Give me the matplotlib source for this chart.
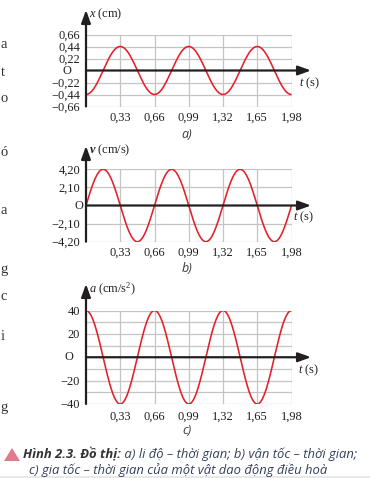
import numpy as np
import matplotlib
matplotlib.use('Agg')
import matplotlib.pyplot as plt
from matplotlib.patches import Polygon, Rectangle

# ---------------- data ----------------
t_ticks = [0.33, 0.66, 0.99, 1.32, 1.65, 1.98]
t_tick_labels = ['0,33', '0,66', '0,99', '1,32', '1,65', '1,98']
t_end = 1.98
period = 0.66

x_amp = 0.44
x_ticks = [0.66, 0.44, 0.22, -0.22, -0.44, -0.66]
x_tick_labels = ['0,66', '0,44', '0,22', '−0,22', '−0,44', '−0,66']

v_amp = 4.20
v_ticks = [4.20, 2.10, -2.10, -4.20]
v_tick_labels = ['4,20', '2,10', '−2,10', '−4,20']

a_amp = 40
a_ticks = [40, 20, -20, -40]
a_tick_labels = ['40', '20', '−20', '−40']
a_grid = [40, 30, 20, 10, -10, -20, -30, -40]

side_letters = ['a', 't', 'o', 'ó', 'a', 'g', 'c', 'i', 'g']
side_letter_y = [45, 73, 98, 153, 210, 269, 297, 337, 407]

caption_bold = 'Hình 2.3. Đồ thị:'
caption_rest1 = ' a) li độ – thời gian; b) vận tốc – thời gian;'
caption_line2 = 'c) gia tốc – thời gian của một vật dao động điều hoà'

# ---------------- style ----------------
W, H, DPI = 370, 478, 100
RED = '#e3202a'
GRID = '#c4c4c4'
AX = '#231f20'
TXT = '#231f20'

plt.rcParams['mathtext.fontset'] = 'custom'
plt.rcParams['mathtext.rm'] = 'Liberation Serif'
plt.rcParams['mathtext.it'] = 'Liberation Serif:italic'
plt.rcParams['mathtext.bf'] = 'Liberation Serif:bold'
plt.rcParams['mathtext.bfit'] = 'Liberation Serif:bold:italic'

SERIF = 'Liberation Serif'
FS = 8.9

fig = plt.figure(figsize=(W / DPI, H / DPI), dpi=DPI)
fig.patch.set_facecolor('white')


def fx(x):
    return x / W


def fy(y):
    return 1 - y / H


X0, X1 = 86, 291.5

t = np.linspace(0, t_end, 800)
omega = 2 * np.pi / period


def make_panel(top, bottom, ylim, hgrid, yticks, ylabels, curve, ylabel,
               label_y, tip_y, o_x, ts_xy, sub_label, sub_y, xpad):
    ax = fig.add_axes([fx(X0), fy(bottom), fx(X1 - X0), (bottom - top) / H])
    ax.set_xlim(0, t_end)
    ax.set_ylim(*ylim)
    for s in ax.spines.values():
        s.set_visible(False)
    ax.patch.set_visible(False)
    # grid
    ax.hlines(hgrid, 0, t_end, color=GRID, lw=0.9, zorder=1)
    ax.vlines(t_ticks, ylim[0], ylim[1], color=GRID, lw=0.9, zorder=1)
    # curve
    ax.plot(t, curve, color=RED, lw=1.15, zorder=3, solid_capstyle='butt')
    # ticks
    ax.set_xticks(t_ticks, t_tick_labels)
    ax.set_yticks(yticks, ylabels)
    ax.tick_params(length=0, labelsize=FS, colors=TXT)
    ax.tick_params(axis='y', pad=4.3)
    ax.tick_params(axis='x', pad=xpad)
    for lab in ax.get_xticklabels() + ax.get_yticklabels():
        lab.set_fontfamily(SERIF)
    # axes with arrows
    arr = dict(arrowstyle='-|>,head_length=0.55,head_width=0.2', color=AX,
               lw=1.6, mutation_scale=14, shrinkA=0, shrinkB=0)
    ax.annotate('', xy=(fx(311), 0), xytext=(0, 0),
                xycoords=('figure fraction', 'data'), textcoords='data',
                arrowprops=arr, annotation_clip=False, zorder=4)
    ax.annotate('', xy=(0, fy(tip_y)), xytext=(0, ylim[0]),
                xycoords=('data', 'figure fraction'), textcoords='data',
                arrowprops=arr, annotation_clip=False, zorder=4)
    # labels
    fig.text(fx(89), fy(label_y), ylabel, fontsize=FS, color=TXT,
             ha='left', va='center')
    fig.text(fx(o_x), fy((top + bottom) / 2), 'O', fontsize=FS, color=TXT,
             ha='center', va='center', family=SERIF)
    fig.text(fx(ts_xy[0]), fy(ts_xy[1]), r'$t\ \mathrm{(s)}$', fontsize=FS,
             color=TXT, ha='left', va='center')
    fig.text(fx(187), fy(sub_y), sub_label, fontsize=9, color='#3a3a3a',
             ha='center', va='center', family='Open Sans', style='italic')
    return ax


make_panel(34.5, 106.5, (-0.66, 0.66), x_ticks, x_ticks, x_tick_labels,
           -x_amp * np.cos(omega * t), r'$x\ \mathrm{(cm)}$', 14, 10, 67,
           (299, 83), 'a)', 134, 3.8)
make_panel(169.3, 241.7, (-4.2, 4.2), v_ticks, v_ticks, v_tick_labels,
           v_amp * np.sin(omega * t), r'$\mathbfit{v}\ \mathrm{(cm/s)}$',
           150, 146, 78.5, (293, 217), 'b)', 269, 3.8)
ax_c = make_panel(310.5, 404, (-40, 40), a_grid, a_ticks, a_tick_labels,
                  a_amp * np.cos(omega * t), r'$a\ \mathrm{(cm/s^2)}$', 289, 284,
                  68.5, (298, 370), 'c)', 431, 5.0)

# letters from neighbouring text at the left edge
for ch, yy in zip(side_letters, side_letter_y):
    fig.text(fx(0.5), fy(yy), ch, fontsize=10.5, color='#333333', family=SERIF,
             ha='left', va='center')

# caption
fig.patches.append(Polygon([[fx(4), fy(461)], [fx(20), fy(461)], [fx(12), fy(448)]],
                           closed=True, transform=fig.transFigure,
                           facecolor='#e07b8c', edgecolor='none'))
CAPF = 'Open Sans'
CAPS = 9.35
t1 = fig.text(fx(23), fy(458), caption_bold, fontsize=CAPS, weight='bold',
              style='italic', family=CAPF, color='#333333', ha='left',
              va='baseline')
ax_c.annotate(caption_rest1, xy=(1, 0), xycoords=t1, xytext=(0, 0),
              textcoords='offset points', fontsize=CAPS, style='italic',
              family=CAPF, color='#34405a', ha='left', va='bottom',
              annotation_clip=False)
fig.text(fx(178), fy(474), caption_line2, fontsize=CAPS, style='italic',
         family=CAPF, color='#34405a', ha='center', va='baseline')

# light grey strip at the bottom
fig.patches.append(Rectangle((0, 0), 1, 2 / H, transform=fig.transFigure,
                             facecolor='#e8e8e8', edgecolor='none'))

fig.savefig('out.png', dpi=DPI, facecolor='white')
